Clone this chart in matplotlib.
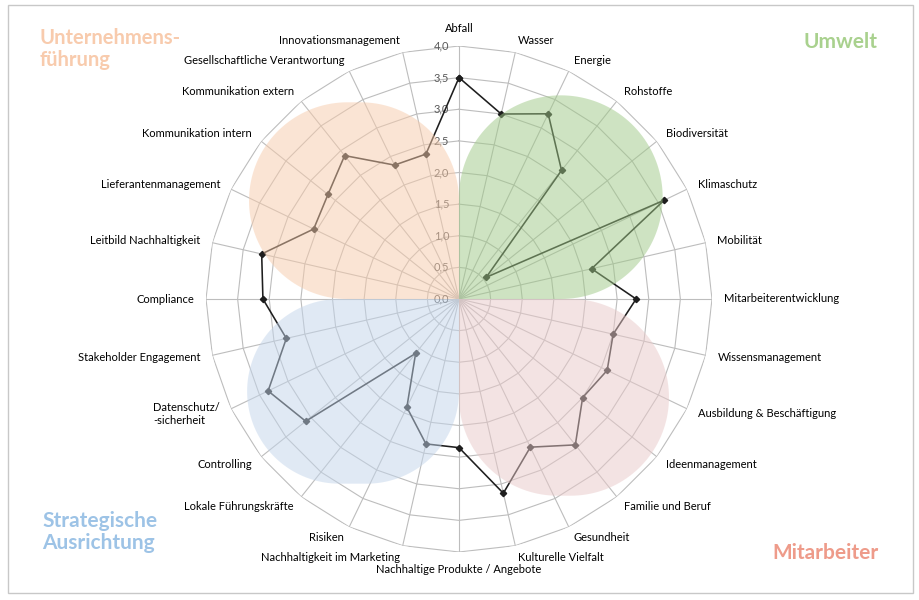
import numpy as np
import matplotlib
matplotlib.use("Agg")
import matplotlib.pyplot as plt
from matplotlib.path import Path
from matplotlib.patches import PathPatch, Rectangle

plt.rcParams["font.family"] = ["Lato", "DejaVu Sans"]

#%% Daten
kategorien = [
    "Abfall", "Wasser", "Energie", "Rohstoffe", "Biodiversität", "Klimaschutz",
    "Mobilität", "Mitarbeiterentwicklung", "Wissensmanagement",
    "Ausbildung & Beschäftigung", "Ideenmanagement", "Familie und Beruf",
    "Gesundheit", "Kulturelle Vielfalt", "Nachhaltige Produkte / Angebote",
    "Nachhaltigkeit im Marketing", "Risiken", "Lokale Führungskräfte",
    "Controlling", "Datenschutz/\n-sicherheit", "Stakeholder Engagement",
    "Compliance", "Leitbild Nachhaltigkeit", "Lieferantenmanagement",
    "Kommunikation intern", "Kommunikation extern",
    "Gesellschaftliche Verantwortung", "Innovationsmanagement",
]
werte = [
    3.5, 3.0, 3.25, 2.6, 0.55, 3.6,
    2.15, 2.8, 2.5,
    2.6, 2.5, 2.95,
    2.6, 3.15, 2.35,
    2.35, 1.9, 1.1,
    3.1, 3.35, 2.8,
    3.1, 3.2, 2.55,
    2.65, 2.9,
    2.35, 2.35,
]
skala = [0.0, 0.5, 1.0, 1.5, 2.0, 2.5, 3.0, 3.5, 4.0]
bereiche = ["Unternehmens-\nführung", "Umwelt", "Strategische\nAusrichtung", "Mitarbeiter"]

#%% Grafik
fig = plt.figure(figsize=(9.2, 6), dpi=100, facecolor="white")
rect = [(459 - 253) / 920, (600 - 299 - 253) / 600, 506 / 920, 506 / 600]

ax = fig.add_axes(rect, projection="polar")
ax.set_theta_zero_location("N")
ax.set_theta_direction(-1)
ax.set_ylim(0, 4)
ax.set_xticks([])
ax.set_yticks([])
ax.grid(False)
ax.spines["polar"].set_visible(False)
ax.patch.set_alpha(0)

n = len(kategorien)
theta = np.arange(n) * 2 * np.pi / n
theta_c = np.append(theta, theta[0])

grid_col = "#BDBDBD"
for lev in skala[1:]:
    ax.plot(theta_c, [lev] * (n + 1), color=grid_col, lw=0.8, zorder=1)
for t in theta:
    ax.plot([t, t], [0, skala[-1]], color=grid_col, lw=0.8, zorder=1)

for v in skala:
    ax.annotate(f"{v:.1f}".replace(".", ","), xy=(0, v), xytext=(-7, 0),
                textcoords="offset points", ha="right", va="center",
                color="#595959", fontsize=8)

ax.plot(theta_c, werte + werte[:1], color="#1E1E1E", lw=1.15, marker="D",
        markersize=3.2, zorder=3)

# Beschriftung der Kategorien
for t, lab in zip(theta, kategorien):
    s, c = np.sin(t), np.cos(t)
    if abs(s) < 0.01:
        ha, va = "center", ("bottom" if c > 0 else "top")
    else:
        ha, va = ("left" if s > 0 else "right"), "center"
    ax.text(t, 4.19, lab, ha=ha, va=va, fontsize=8, color="black",
            multialignment="left")

#%% Blätter im Hintergrund (über den Linien, halbtransparent)
ax2 = fig.add_axes(rect)
ax2.set_xlim(-4, 4)
ax2.set_ylim(-4, 4)
ax2.axis("off")
ax2.patch.set_alpha(0)


def blatt(sx, sy, W, H, R, p=2.0, k=40):
    pts = [(0.0, 0.0)]
    ecken = [((W - R, R), -90, 0), ((W - R, H - R), 0, 90), ((R, H - R), 90, 180)]
    for (cx, cy), a0, a1 in ecken:
        for a in np.linspace(np.radians(a0), np.radians(a1), k):
            ca, sa = np.cos(a), np.sin(a)
            pts.append((cx + R * np.sign(ca) * abs(ca) ** (2 / p),
                        cy + R * np.sign(sa) * abs(sa) ** (2 / p)))
    pts.append((0.0, 0.0))
    pts = np.array(pts)
    pts[:, 0] *= sx
    pts[:, 1] *= sy
    return Path(pts)


blaetter = [
    (-1, 1, 3.32, 3.11, "#F7CBAB"),
    (1, 1, 3.22, 3.22, "#9FC987"),
    (-1, -1, 3.35, 2.92, "#C3D5EB"),
    (1, -1, 3.32, 3.11, "#E9C9C9"),
]
for sx, sy, W, H, col in blaetter:
    R = 0.5 * min(W, H)
    ax2.add_patch(PathPatch(blatt(sx, sy, W, H, R), facecolor=col,
                            edgecolor="none", alpha=0.5))

#%% Bereichstitel
titel_farben = ["#F8CBAD", "#A9D18E", "#9DC3E6", "#EE9B8A"]
fig.text(40 / 920, 1 - 28 / 600, bereiche[0], color=titel_farben[0], fontsize=14.5,
         fontweight="bold", ha="left", va="top", linespacing=1.15)
fig.text(878 / 920, 1 - 42 / 600, bereiche[1], color=titel_farben[1], fontsize=15,
         fontweight="bold", ha="right", va="center")
fig.text(42 / 920, 1 - 511 / 600, bereiche[2], color=titel_farben[2], fontsize=15,
         fontweight="bold", ha="left", va="top", linespacing=1.15)
fig.text(879 / 920, 1 - 553 / 600, bereiche[3], color=titel_farben[3], fontsize=15,
         fontweight="bold", ha="right", va="center")

fig.patches.append(Rectangle((8 / 920, 7 / 600), 905 / 920, 588 / 600,
                             transform=fig.transFigure, fill=False,
                             edgecolor="#C8C8C8", lw=1))

fig.savefig("out.png", dpi=100, facecolor="white")
